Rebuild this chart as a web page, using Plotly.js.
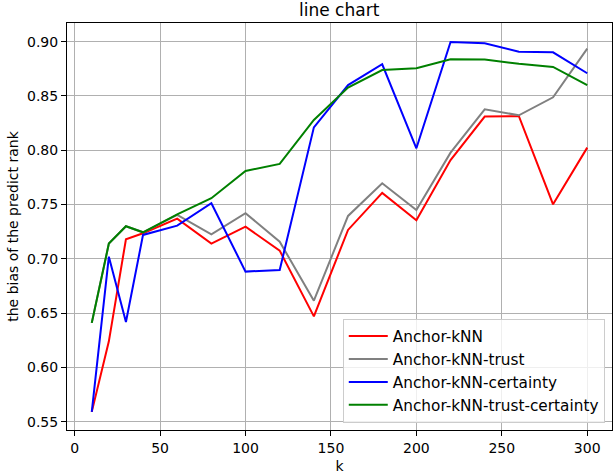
<!DOCTYPE html>
<html>
<head>
<meta charset="utf-8">
<script src="https://cdn.plot.ly/plotly-3.0.1.min.js"></script>
<style>html,body{margin:0;padding:0;background:#fff}#chart{width:614px;height:474px}</style>
</head>
<body>
<div id="chart"></div>
<script>
const kValues = [10, 20, 30, 40, 60, 80, 100, 120, 140, 160, 180, 200, 220, 240, 260, 280, 300];
const anchorKNN = [0.559, 0.624, 0.718, 0.7235, 0.737, 0.714, 0.7296, 0.7075, 0.647, 0.7266, 0.7607, 0.7355, 0.791, 0.831, 0.8313, 0.7502, 0.8024];
const anchorKNNTrust = [0.641, 0.714, 0.730, 0.7244, 0.7404, 0.7226, 0.742, 0.7158, 0.6614, 0.7395, 0.7696, 0.745, 0.7978, 0.8377, 0.8322, 0.8488, 0.8936];
const anchorKNNCertainty = [0.559, 0.702, 0.6418, 0.722, 0.7305, 0.7512, 0.6882, 0.6897, 0.8211, 0.860, 0.8792, 0.8018, 0.8997, 0.8985, 0.8908, 0.8902, 0.8709];
const anchorKNNTrustCertainty = [0.641, 0.714, 0.730, 0.7244, 0.741, 0.7558, 0.7809, 0.7874, 0.8279, 0.8577, 0.8739, 0.8755, 0.8838, 0.8835, 0.8797, 0.8767, 0.860];
const seriesNames = ["Anchor-kNN", "Anchor-kNN-trust", "Anchor-kNN-certainty", "Anchor-kNN-trust-certainty"];
const seriesColors = ["#ff0000", "#808080", "#0000ff", "#008000"];
const xTicks = [0, 50, 100, 150, 200, 250, 300];
const yTicks = [0.55, 0.60, 0.65, 0.70, 0.75, 0.80, 0.85, 0.90];

const allSeries = [anchorKNN, anchorKNNTrust, anchorKNNCertainty, anchorKNNTrustCertainty];
const traces = allSeries.map((vals, i) => ({
  x: kValues, y: vals, type: 'scatter', mode: 'lines', name: seriesNames[i],
  legendgroup: 'g' + i,
  line: {color: seriesColors[i], width: 2}
}));

const font = {family: 'DejaVu Sans, sans-serif', size: 14, color: '#000'};
const axisCommon = {
  showline: true, mirror: true, linecolor: '#000', linewidth: 1,
  ticks: 'outside', ticklen: 5, tickwidth: 1, tickcolor: '#000',
  showgrid: true, gridcolor: '#b0b0b0', gridwidth: 1, zeroline: false,
  tickfont: font, automargin: false
};
const layout = {
  width: 614, height: 474,
  margin: {l: 67, r: 2, t: 23, b: 44},
  paper_bgcolor: '#fff', plot_bgcolor: '#fff',
  font: font,
  title: {text: 'line chart', font: {family: 'DejaVu Sans, sans-serif', size: 17, color: '#000'}, x: 0.5524, xanchor: 'center', y: 0.978, yanchor: 'middle'},
  xaxis: Object.assign({}, axisCommon, {
    range: [-4.5, 314.5], tickvals: xTicks, ticktext: xTicks.map(String),
    title: {text: 'k', font: font, standoff: 7}
  }),
  yaxis: Object.assign({}, axisCommon, {
    range: [0.5423, 0.9172], tickvals: yTicks, ticktext: yTicks.map(v => v.toFixed(2)),
    title: {text: 'the bias of the predict rank', font: font, standoff: 5}
  }),
  showlegend: true,
  legend: {
    x: 0.506, y: 0.018, xanchor: 'left', yanchor: 'bottom',
    bgcolor: 'rgba(255,255,255,0.8)', bordercolor: '#cccccc', borderwidth: 1,
    font: {family: 'DejaVu Sans, sans-serif', size: 15.3, color: '#000'}, tracegroupgap: 0, itemwidth: 39
  }
};
Plotly.newPlot('chart', traces, layout, {displayModeBar: false, staticPlot: true});
</script>
</body>
</html>
